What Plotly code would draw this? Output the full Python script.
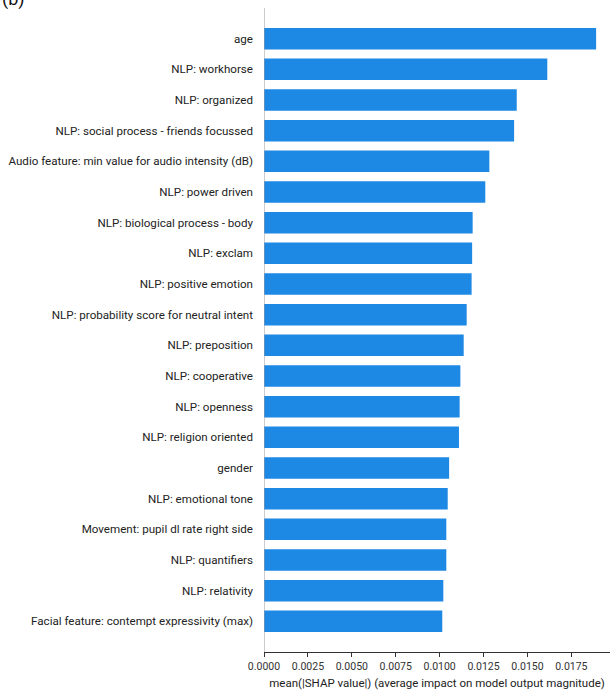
import plotly.graph_objects as go

# Features ranked by mean absolute SHAP value (top to bottom)
features = [
    "age",
    "NLP: workhorse",
    "NLP: organized",
    "NLP: social process - friends focussed",
    "Audio feature: min value for audio intensity (dB)",
    "NLP: power driven",
    "NLP: biological process - body",
    "NLP: exclam",
    "NLP: positive emotion",
    "NLP: probability score for neutral intent",
    "NLP: preposition",
    "NLP: cooperative",
    "NLP: openness",
    "NLP: religion oriented",
    "gender",
    "NLP: emotional tone",
    "Movement: pupil dl rate right side",
    "NLP: quantifiers",
    "NLP: relativity",
    "Facial feature: contempt expressivity (max)",
]
mean_abs_shap = [
    0.01891, 0.01613, 0.01439, 0.01424, 0.01283, 0.01260, 0.01188,
    0.01185, 0.01182, 0.01154, 0.01137, 0.01118, 0.01114, 0.01110,
    0.01054, 0.01046, 0.01038, 0.01038, 0.01021, 0.01015,
]
x_ticks = [0.0, 0.0025, 0.0050, 0.0075, 0.0100, 0.0125, 0.0150, 0.0175]
x_tick_text = ["0.0000", "0.0025", "0.0050", "0.0075", "0.0100", "0.0125", "0.0150", "0.0175"]

FONT = "Roboto, sans-serif"
AXIS_COLOR = "#333333"

fig = go.Figure(
    go.Bar(
        x=mean_abs_shap,
        y=features,
        orientation="h",
        width=0.7,
        marker=dict(color="#1E88E5", line=dict(width=0)),
    )
)

n = len(features)
fig.update_layout(
    width=610,
    height=694,
    margin=dict(l=264, r=0, t=8, b=42),
    paper_bgcolor="white",
    plot_bgcolor="white",
    showlegend=False,
    font=dict(family=FONT, color=AXIS_COLOR),
    xaxis=dict(
        range=[0, 0.0197],
        tickvals=x_ticks,
        ticktext=x_tick_text,
        tickangle=0,
        tickfont=dict(size=10.5, color=AXIS_COLOR),
        ticks="outside",
        ticklen=4,
        tickwidth=1,
        tickcolor=AXIS_COLOR,
        showline=True,
        linecolor=AXIS_COLOR,
        linewidth=1,
        showgrid=False,
        zeroline=False,
        automargin=False,
        title=dict(
            text="mean(|SHAP value|) (average impact on model output magnitude)",
            font=dict(size=11.5, color="#222222"),
            standoff=7,
        ),
    ),
    yaxis=dict(
        type="category",
        categoryorder="array",
        categoryarray=features[::-1],
        range=[-1, n],
        tickfont=dict(size=11.6, color="#222222"),
        ticks="",
        ticklabelstandoff=10,
        showline=False,
        showgrid=False,
        zeroline=False,
        automargin=False,
    ),
    shapes=[
        dict(
            type="line", xref="x", yref="paper",
            x0=0, x1=0, y0=0, y1=1,
            line=dict(color="#999999", width=1),
        )
    ],
    annotations=[
        dict(
            text="(b)", xref="paper", yref="paper",
            x=-264 / 346, y=1, xanchor="left", yanchor="bottom",
            yshift=-4, showarrow=False,
            font=dict(size=18, color="#111111", family=FONT),
        )
    ],
)

fig.write_html("out.html")
